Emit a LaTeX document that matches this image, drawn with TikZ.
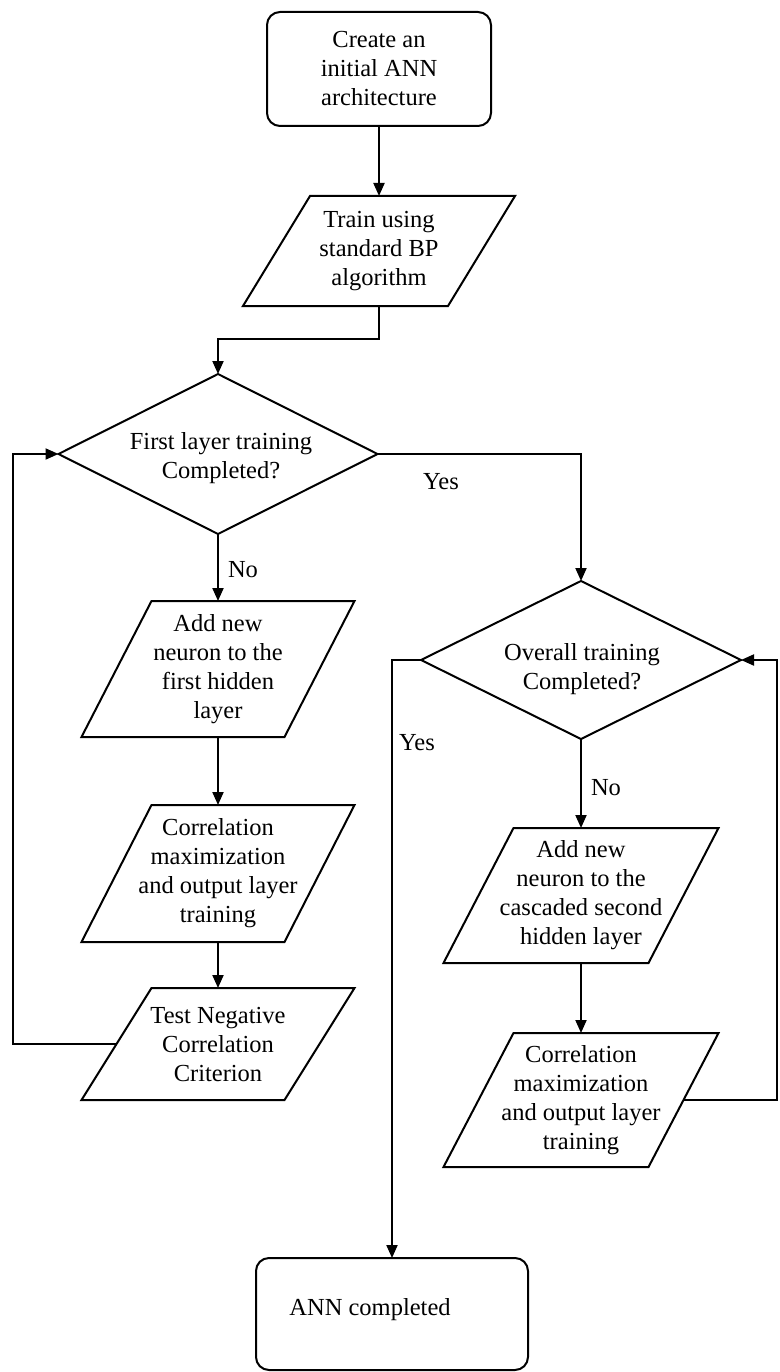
\documentclass[tikz,border=0pt]{standalone}
\usepackage{fontspec}
\setmainfont{Liberation Serif}
\usetikzlibrary{arrows.meta,shapes.geometric}

% outline of a slanted (input/output) box around an invisible rectangular node
\newcommand\drawslant[2]{%
  \draw[outline] ([xshift=#2]#1.north west) -- ([xshift=#2]#1.north east)
    -- ([xshift=-#2]#1.south east) -- ([xshift=-#2]#1.south west) -- cycle;}

\begin{document}
\begin{tikzpicture}[x=1pt,y=-1pt,
  font=\fontsize{24.5}{29}\selectfont,
  every node/.style={inner sep=0pt, outer sep=0pt, align=center},
  outline/.style={draw=black, line width=2pt, line join=miter},
  terminal/.style={outline, rounded corners=13pt},
  decision/.style={outline, diamond},
  conn/.style={line width=2pt, -{Triangle[length=13pt,width=11pt]}},
]
\useasboundingbox (0,0) rectangle (779,1372);

% rails for the two feedback loops
\coordinate (leftrail) at (13,0);
\coordinate (rightrail) at (777,0);

% main column
\node[terminal, minimum width=224pt, minimum height=114pt] (start) at (379,69)
  {Create an\\initial ANN\\architecture};
\node[minimum width=205pt, minimum height=110pt] (bp) at (379,251)
  {Train using\\standard BP\\algorithm};
\drawslant{bp}{33.5pt}

% first hidden layer loop
\node[decision, minimum width=319pt, minimum height=160pt] (first) at (218,454) {};
\node (firsttxt) at (221,458) {First layer training\\Completed?};
\node[minimum width=203pt, minimum height=136pt] (addA) at (218,669)
  {Add new\\neuron to the\\first hidden\\layer};
\drawslant{addA}{35pt}
\node[minimum width=203pt, minimum height=137pt] (corrA) at (218,873.5)
  {Correlation\\maximization\\and output layer\\training};
\drawslant{corrA}{35pt}
\node[minimum width=203pt, minimum height=112pt] (test) at (218,1044)
  {Test Negative\\Correlation\\Criterion};
\drawslant{test}{35pt}

% second hidden layer loop
\node[decision, minimum width=320pt, minimum height=158pt] (overall) at (581,660) {};
\node (overalltxt) at (582,669) {Overall training\\Completed?};
\node[minimum width=205pt, minimum height=135pt] (addB) at (581,895.5)
  {Add new\\neuron to the\\cascaded second\\hidden layer};
\drawslant{addB}{35pt}
\node[minimum width=205pt, minimum height=134pt] (corrB) at (581,1100)
  {Correlation\\maximization\\and output layer\\training};
\drawslant{corrB}{35pt}

% end
\node[terminal, minimum width=272pt, minimum height=112pt] (done) at (392,1314) {};
\node (donetxt) at (370,1310) {ANN completed};

% connectors
\coordinate (merge) at (218,339);
\draw[conn] (start.south) -- (bp.north);
\draw[conn] (bp.south) |- (merge) -- (first.north);
\draw[conn] (first.east) -| (overall.north);
\draw[conn] (first.south) -- (addA.north);
\draw[conn] (addA.south) -- (corrA.north);
\draw[conn] (corrA.south) -- (test.north);
\draw[conn] (test.west) -- (test.west -| leftrail) |- (first.west);
\draw[conn] (overall.south) -- (addB.north);
\draw[conn] (addB.south) -- (corrB.north);
\draw[conn] (corrB.east) -- (corrB.east -| rightrail) |- (overall.east);
\draw[conn] (overall.west) -| (done.north);

% branch labels
\node (yes1) at (441,482) {Yes};
\node (no1) at (243,570) {No};
\node (yes2) at (417,743) {Yes};
\node (no2) at (606,788) {No};
\end{tikzpicture}
\end{document}
